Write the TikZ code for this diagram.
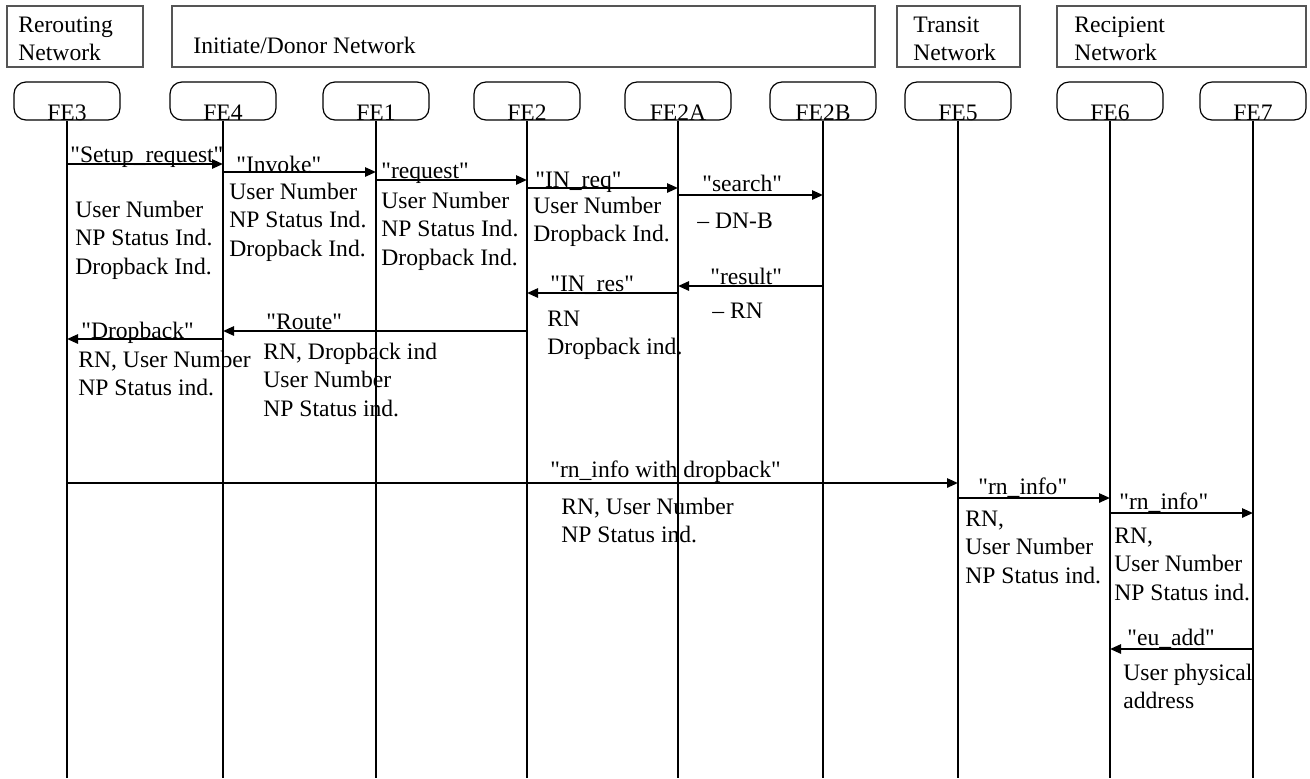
\documentclass[tikz,border=0pt]{standalone}
\usepackage{fontspec}
\newfontfamily\tnr{Liberation Serif}
\usetikzlibrary{arrows.meta}
\definecolor{hdrgray}{RGB}{85,85,85}
\newcommand{\ml}[1]{\begin{tabular}[t]{@{}l@{}}#1\end{tabular}}
\begin{document}
\begin{tikzpicture}[x=0.5pt,y=-0.5pt,
  every node/.style={font=\tnr\fontsize{11.8}{14.25}\selectfont, inner sep=0pt},
  hdr/.style={draw=hdrgray, line width=0.6pt},
  fe/.style={draw=black, line width=0.6pt, rounded corners=6pt, minimum width=53pt, minimum height=19pt},
  life/.style={line width=1pt},
  msg/.style={line width=1.1pt, -{Triangle[length=5.5pt,width=4.6pt]}},
  lbl/.style={anchor=base west},
]
\useasboundingbox (0,0) rectangle (1310,778);
% header boxes
\draw[hdr] (7,6) rectangle (143,67);
\draw[hdr] (172,6) rectangle (875,67);
\draw[hdr] (897,6) rectangle (1020,67);
\draw[hdr] (1057,6) rectangle (1306,67);
\node[lbl] (hRer) at (18,32) {\ml{Rerouting\\Network}};
\node[lbl] (hIni) at (193,53) {Initiate/Donor Network};
\node[lbl] (hTra) at (913,32) {\ml{Transit\\Network}};
\node[lbl] (hRec) at (1074,32) {\ml{Recipient\\Network}};
% FE boxes
\foreach \n/\x in {3/67,4/223,1/376,2/527,2A/678,2B/823,5/958,6/1110,7/1253}{
  \node[fe] (fe\n) at (\x,101) {};
  \node[anchor=base] (t\n) at (fe\n.south) {FE\n};
  \coordinate (e\n) at (\x,778);
  \draw[life] (fe\n.south) -- (e\n);
}
% messages
\draw[msg] (fe3 |- 0,164) -- (fe4 |- 0,164);
\node[lbl] (m1) at (70,162) {"Setup\_request"};
\node[lbl] (p1) at (75,217) {\ml{User Number\\NP Status Ind.\\Dropback Ind.}};

\draw[msg] (fe4 |- 0,172) -- (fe1 |- 0,172);
\node[lbl] (m2) at (236,172) {"Invoke"};
\node[lbl] (p2) at (229,199) {\ml{User Number\\NP Status Ind.\\Dropback Ind.}};

\draw[msg] (fe1 |- 0,180) -- (fe2 |- 0,180);
\node[lbl] (m3) at (381,178) {"request"};
\node[lbl] (p3) at (381,208) {\ml{User Number\\NP Status Ind.\\Dropback Ind.}};

\draw[msg] (fe2 |- 0,188) -- (fe2A |- 0,188);
\node[lbl] (m4) at (535,187) {"IN\_req"};
\node[lbl] (p4) at (533,213) {\ml{User Number\\Dropback Ind.}};

\draw[msg] (fe2A |- 0,195) -- (fe2B |- 0,195);
\node[lbl] (m5) at (702,191) {"search"};
\node[lbl] (p5) at (697,228) {– DN-B};

\draw[msg] (fe2B |- 0,286) -- (fe2A |- 0,286);
\node[lbl] (m6) at (710,284) {"result"};
\node[lbl] (p6) at (712,318) {– RN};

\draw[msg] (fe2A |- 0,293) -- (fe2 |- 0,293);
\node[lbl] (m7) at (550,291) {"IN\_res"};
\node[lbl] (p7) at (547,326) {\ml{RN\\Dropback ind.}};

\draw[msg] (fe2 |- 0,331) -- (fe4 |- 0,331);
\node[lbl] (m8) at (266,329) {"Route"};
\node[lbl] (p8) at (263,359) {\ml{RN, Dropback ind\\User Number\\NP Status ind.}};

\draw[msg] (fe4 |- 0,339) -- (fe3 |- 0,339);
\node[lbl] (m9) at (81,338) {"Dropback"};
\node[lbl] (p9) at (78,367) {\ml{RN, User Number\\NP Status ind.}};

\draw[msg] (fe3 |- 0,483) -- (fe5 |- 0,483);
\node[lbl] (m10) at (550,477) {"rn\_info with dropback"};
\node[lbl] (p10) at (561,514) {\ml{RN, User Number\\NP Status ind.}};

\draw[msg] (fe5 |- 0,498) -- (fe6 |- 0,498);
\node[lbl] (m11) at (978,494) {"rn\_info"};
\node[lbl] (p11) at (965,526) {\ml{RN,\\User Number\\NP Status ind.}};

\draw[msg] (fe6 |- 0,513) -- (fe7 |- 0,513);
\node[lbl] (m12) at (1119,509) {"rn\_info"};
\node[lbl] (p12) at (1114,543) {\ml{RN,\\User Number\\NP Status ind.}};

\draw[msg] (fe7 |- 0,649) -- (fe6 |- 0,649);
\node[lbl] (m13) at (1127,645) {"eu\_add"};
\node[lbl] (p13) at (1123,680) {\ml{User physical\\address}};
\end{tikzpicture}
\end{document}
